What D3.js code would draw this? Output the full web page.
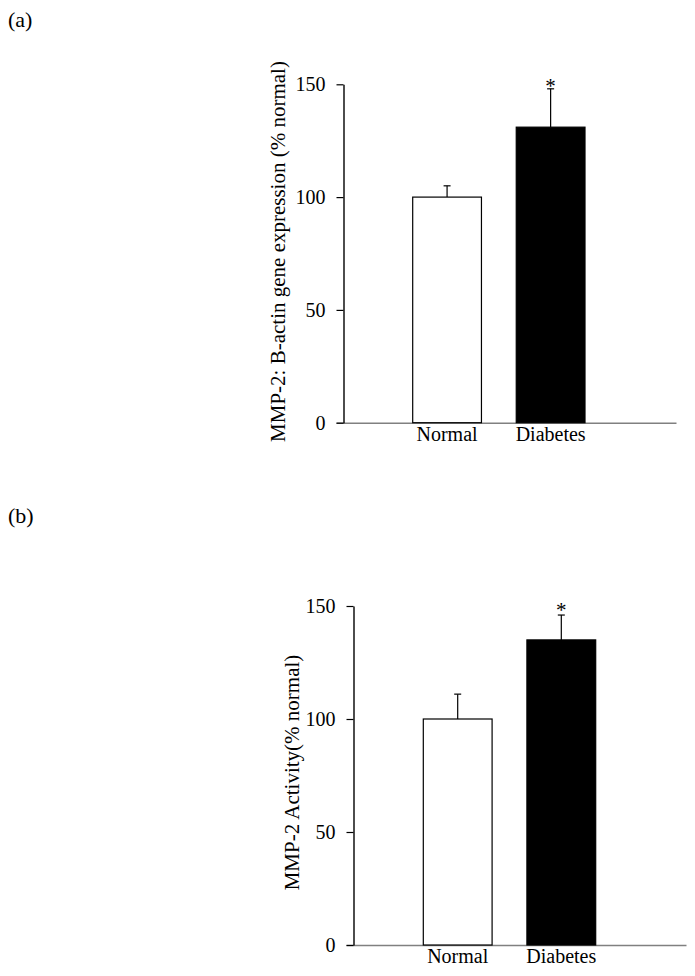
<!DOCTYPE html>
<html>
<head>
<meta charset="utf-8">
<script src="https://cdn.jsdelivr.net/npm/d3@7"></script>
<style>
  body { margin: 0; background: #fff; }
  svg text { font-family: "Liberation Serif", "Times New Roman", serif; fill: #000; }
</style>
</head>
<body>
<div id="chart"></div>
<script>
// data
const groups = ['Normal', 'Diabetes'];
const geneMeans = [100, 131];
const geneErrors = [5, 17];
const activityMeans = [100, 135];
const activityErrors = [11, 11];
const yTicks = [0, 50, 100, 150];
const significant = [false, true];

const svg = d3.select('#chart')
    .append('svg')
    .attr('width', 695)
    .attr('height', 976);

// one panel = one bar chart
function drawPanel(cfg) {
    const g = svg.append('g')
        .attr('transform', `translate(${cfg.left},${cfg.top})`);

    const yScale = d3.scaleLinear()
        .domain([0, 150])
        .range([cfg.height, 0]);

    const xScale = d3.scaleBand()
        .domain(groups)
        .range([cfg.barStart, cfg.barEnd])
        .paddingInner(0.336)
        .paddingOuter(0);

    const rows = groups.map((k, i) => ({
        name: k, mean: cfg.means[i], err: cfg.errors[i], sig: significant[i], i: i
    }));

    // x axis line (grey, runs past the bars)
    g.append('line')
        .attr('x1', -7).attr('x2', cfg.axisEnd)
        .attr('y1', cfg.height + 0.5).attr('y2', cfg.height + 0.5)
        .attr('stroke', '#808080')
        .attr('stroke-width', 1.4);

    // error bars, drawn first so bar outline sits on top
    rows.forEach(d => {
        const cx = xScale(d.name) + xScale.bandwidth() / 2;
        const yTop = yScale(d.mean + d.err);
        g.append('line')
            .attr('x1', cx).attr('x2', cx)
            .attr('y1', yScale(d.mean)).attr('y2', yTop)
            .attr('stroke', '#000').attr('stroke-width', 1.2);
        g.append('line')
            .attr('x1', cx - 3.5).attr('x2', cx + 3.5)
            .attr('y1', yTop).attr('y2', yTop)
            .attr('stroke', '#000').attr('stroke-width', 1.2);
        if (d.sig) {
            g.append('text')
                .attr('x', cx)
                .attr('y', yTop + cfg.starOffset)
                .attr('text-anchor', 'middle')
                .style('font-size', '21px')
                .text('*');
        }
    });

    g.selectAll('.bar')
        .data(rows)
        .join('rect')
        .attr('class', 'bar')
        .attr('x', d => xScale(d.name))
        .attr('y', d => yScale(d.mean))
        .attr('width', xScale.bandwidth())
        .attr('height', d => yScale(0) - yScale(d.mean))
        .attr('fill', d => d.i === 0 ? '#fff' : '#000')
        .attr('stroke', '#000')
        .attr('stroke-width', 1.2);

    // y axis
    const yAxis = d3.axisLeft(yScale)
        .tickValues(yTicks)
        .tickSize(7)
        .tickPadding(11)
        .tickSizeOuter(0);

    g.append('g')
        .call(yAxis)
        .call(a => a.select('.domain').attr('stroke', '#000').attr('stroke-width', 1.4))
        .call(a => a.selectAll('.tick line').attr('stroke', '#000').attr('stroke-width', 1.2))
        .call(a => a.selectAll('.tick text')
            .style('font-size', '20px')
            .style('font-family', '"Liberation Serif", "Times New Roman", serif'));

    // category labels
    g.selectAll('.cat')
        .data(rows)
        .join('text')
        .attr('class', 'cat')
        .attr('x', d => xScale(d.name) + xScale.bandwidth() / 2)
        .attr('y', cfg.height + 18)
        .attr('text-anchor', 'middle')
        .style('font-size', '20px')
        .text(d => d.name);

    // axis title
    g.append('text')
        .attr('transform', `translate(${cfg.titleX},${cfg.height / 2 + cfg.titleShift}) rotate(-90)`)
        .attr('text-anchor', 'middle')
        .attr('dy', '0.35em')
        .style('font-size', '21px')
        .text(cfg.title);

    // panel letter
    svg.append('text')
        .attr('x', 8)
        .attr('y', cfg.letterY)
        .style('font-size', '22px')
        .text(cfg.letter);
}

drawPanel({
    left: 343.5, top: 84.3, height: 338.4,
    barStart: 69.2, barEnd: 241.5, axisEnd: 333,
    means: geneMeans, errors: geneErrors,
    title: 'MMP-2: B-actin gene expression (% normal)',
    titleX: -65.5, titleShift: -2,
    starOffset: 4,
    letter: '(a)', letterY: 27
});

drawPanel({
    left: 353.5, top: 606, height: 339,
    barStart: 69.8, barEnd: 242.2, axisEnd: 333,
    means: activityMeans, errors: activityErrors,
    title: 'MMP-2 Activity(% normal)',
    titleX: -62, titleShift: -3,
    starOffset: 2,
    letter: '(b)', letterY: 523
});
</script>
</body>
</html>
